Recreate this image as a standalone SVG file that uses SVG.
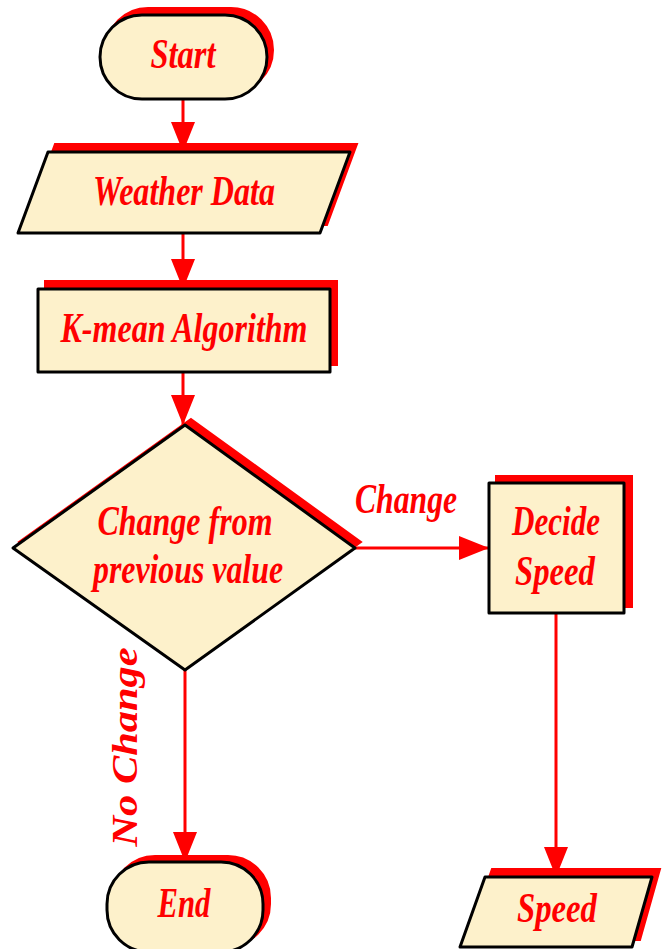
<svg xmlns="http://www.w3.org/2000/svg" width="662" height="949" viewBox="0 0 662 949">
<defs>
<style>
.sh{fill:#FF0000;stroke:#FF0000;stroke-width:2}
.nd{fill:#FDF1CB;stroke:#000;stroke-width:3;stroke-linejoin:round}
.t{font-family:"Liberation Serif","Times New Roman",serif;font-weight:bold;font-style:italic;font-size:42px;fill:#FF0000;text-anchor:middle}
.c{stroke:#FF0000;stroke-width:3;fill:none}
</style>
<marker id="ah2" viewBox="0 0 30 24" refX="30" refY="12" markerWidth="30" markerHeight="24" orient="auto" markerUnits="userSpaceOnUse">
<path d="M0,0 L30,12 L0,24 Z" fill="#FF0000"/>
</marker>
</defs>
<rect width="662" height="949" fill="#FFFFFF"/>
<g id="connectors">
<line class="c" x1="183" y1="99" x2="183" y2="152" marker-end="url(#ah2)"/>
<line class="c" x1="183" y1="233" x2="183" y2="289" marker-end="url(#ah2)"/>
<line class="c" x1="183" y1="372" x2="183" y2="425" marker-end="url(#ah2)"/>
<line class="c" x1="355" y1="548" x2="489" y2="548" marker-end="url(#ah2)"/>
<line class="c" x1="185" y1="670" x2="185" y2="862" marker-end="url(#ah2)"/>
<line class="c" x1="556" y1="613" x2="556" y2="877" marker-end="url(#ah2)"/>
<text class="t" x="406" y="513" textLength="102" lengthAdjust="spacingAndGlyphs">Change</text>
<text class="t" style="font-size:36px" transform="translate(137,747) rotate(-90)" x="0" y="0" textLength="199" lengthAdjust="spacingAndGlyphs">No Change</text>
</g>
<g id="start">
<rect class="sh" x="106" y="8" width="167" height="84" rx="42"/>
<rect class="nd" x="100" y="15" width="167" height="84" rx="42"/>
<text class="t" x="183" y="68" textLength="65" lengthAdjust="spacingAndGlyphs">Start</text>
</g>
<g id="weather">
<polygon class="sh" points="55,144 357,144 327,225 25,225"/>
<polygon class="nd" points="48,152 350,152 320,233 18,233"/>
<text class="t" x="184" y="205" textLength="182" lengthAdjust="spacingAndGlyphs">Weather Data</text>
</g>
<g id="kmean">
<rect class="sh" x="45" y="281" width="292" height="84"/>
<rect class="nd" x="38" y="289" width="292" height="83"/>
<text class="t" x="184" y="342" textLength="247" lengthAdjust="spacingAndGlyphs">K-mean Algorithm</text>
</g>
<g id="decision">
<polygon class="sh" points="191,419 361,542 191,664 19,542"/>
<polygon class="nd" points="185,425 355,548 185,670 13,548"/>
<text class="t" x="185" y="535" textLength="175" lengthAdjust="spacingAndGlyphs">Change from</text>
<text class="t" x="188" y="583" textLength="190" lengthAdjust="spacingAndGlyphs">previous value</text>
</g>
<g id="decide">
<rect class="sh" x="496" y="476" width="136" height="131"/>
<rect class="nd" x="489" y="483" width="135" height="130"/>
<text class="t" x="556" y="535" textLength="88" lengthAdjust="spacingAndGlyphs">Decide</text>
<text class="t" x="555" y="585" textLength="80" lengthAdjust="spacingAndGlyphs">Speed</text>
</g>
<g id="end">
<rect class="sh" x="113" y="856" width="157" height="90" rx="42"/>
<rect class="nd" x="107" y="862" width="156" height="90" rx="42"/>
<text class="t" x="184" y="917" textLength="53" lengthAdjust="spacingAndGlyphs">End</text>
</g>
<g id="speed">
<polygon class="sh" points="492,869 660,869 640,940 467,940"/>
<polygon class="nd" points="485,877 652,877 632,947 460,947"/>
<text class="t" x="557" y="922" textLength="80" lengthAdjust="spacingAndGlyphs">Speed</text>
</g>
</svg>
